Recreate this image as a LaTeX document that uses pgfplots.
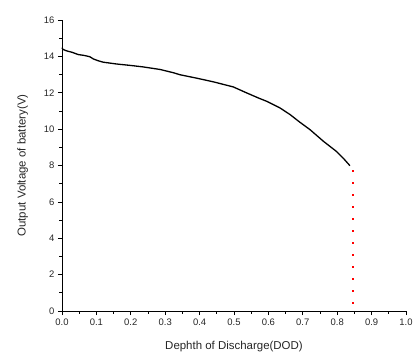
\documentclass[border=0pt]{standalone}
\usepackage{fontspec}
\setmainfont{Liberation Sans}
\usepackage{pgfplots}
\pgfplotsset{compat=1.18}
\begin{document}
\begin{tikzpicture}
\path[use as bounding box] (-62bp,-50bp) rectangle (355bp,311bp);
\begin{axis}[
    scale only axis,
    width=344bp, height=291bp,
    xmin=0, xmax=1, ymin=0, ymax=16,
    axis lines*=left,
    axis line style={line width=0.8bp},
    tick align=outside,
    major tick length=4bp,
    minor tick length=2.5bp,
    tick style={black, line width=0.7bp},
    xtick={0,0.1,...,1.0},
    ytick={0,2,...,16},
    minor x tick num=1,
    minor y tick num=1,
    /pgf/number format/assume math mode=true,
    xticklabel style={/pgf/number format/.cd, fixed, fixed zerofill, precision=1},
    ticklabel style={font=\fontsize{9.5}{10}\selectfont, text=black!85},
    xlabel={Dephth of Discharge(DOD)},
    ylabel={Output Voltage of battery(V)},
    label style={font=\fontsize{11.5}{13}\selectfont, text=black!85},
    xlabel style={yshift=-9bp},
    ylabel style={yshift=9bp},
    clip=false,
]
\addplot[black, line width=1.3bp] coordinates {
    (0.000,14.48) (0.003,14.38) (0.014,14.30) (0.030,14.22)
    (0.047,14.10) (0.065,14.05) (0.081,13.98) (0.091,13.86)
    (0.105,13.76) (0.120,13.68) (0.159,13.58) (0.200,13.50)
    (0.236,13.42) (0.285,13.28) (0.324,13.10) (0.343,12.99)
    (0.392,12.80) (0.440,12.60) (0.498,12.32) (0.537,11.99)
    (0.570,11.72) (0.595,11.53) (0.634,11.16) (0.663,10.80)
    (0.690,10.40) (0.721,9.97) (0.760,9.33) (0.798,8.77)
    (0.820,8.35) (0.837,7.99)
};
\addplot[red, line width=2bp, dash pattern=on 2bp off 10bp] coordinates {
    (0.845,7.75) (0.845,0)
};
\end{axis}
\end{tikzpicture}
\end{document}
